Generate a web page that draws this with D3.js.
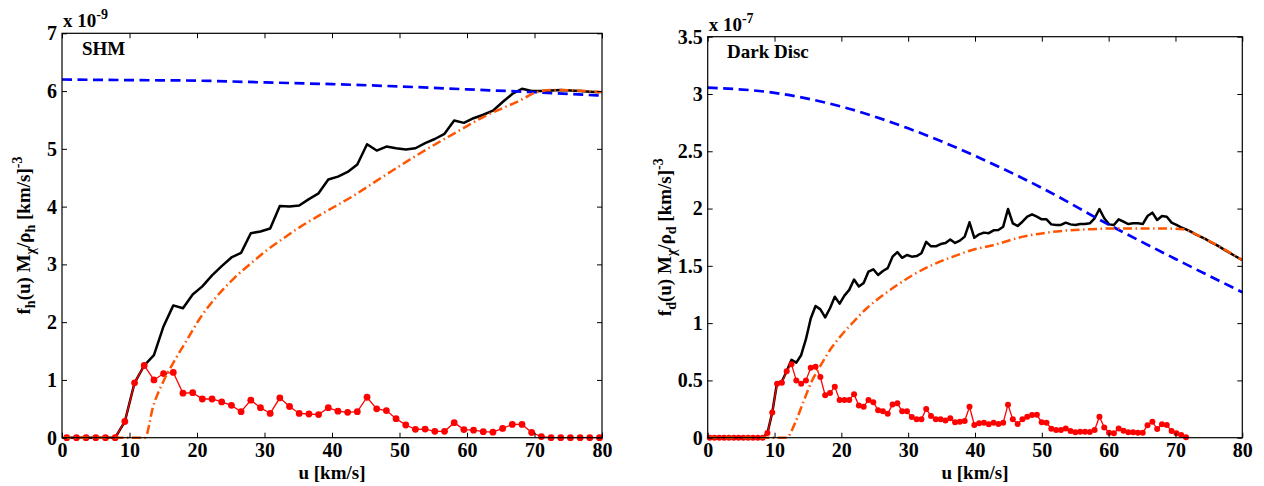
<!DOCTYPE html>
<html><head><meta charset="utf-8">
<script src="https://cdn.jsdelivr.net/npm/d3@7"></script>
<style>
body{margin:0;background:#fff}
svg text{font-family:"Liberation Serif","Times New Roman",serif;font-weight:bold;fill:#000}
</style>
</head><body>
<svg id="c" width="1264" height="486"></svg>
<script>
// ---------------- DATA ----------------
const xTicks = [0,10,20,30,40,50,60,70,80];
const yTicksSHM = [0,1,2,3,4,5,6,7];
const yTickLabelsSHM = ["0","1","2","3","4","5","6","7"];
const yTicksDD = [0,0.5,1,1.5,2,2.5,3,3.5];
const yTickLabelsDD = ["0","0.5","1","1.5","2","2.5","3","3.5"];

// SHM panel (units of 1e-9)
const uSHM = [0.70,2.14,3.57,5.01,6.44,7.88,9.31,10.75,12.18,13.62,15.05,16.49,17.92,19.36,20.79,22.23,23.66,25.10,26.53,27.97,
  29.40,30.84,32.27,33.71,35.14,36.58,38.01,39.45,40.88,42.32,43.75,45.19,46.62,48.06,49.49,50.93,52.36,53.80,55.23,56.67,
  58.10,59.54,60.97,62.41,63.84,65.28,66.71,68.15,69.58,71.02,72.45,73.89,75.32,76.76,78.19,79.63];
const blackSHM = [0,0,0,0,0,0,0.28,0.95,1.25,1.43,1.93,2.29,2.24,2.48,2.62,2.81,2.97,3.12,3.20,3.54,
  3.57,3.62,4.01,4.00,4.02,4.13,4.23,4.47,4.52,4.60,4.73,5.08,4.97,5.04,5.01,4.99,5.01,5.10,5.17,5.26,
  5.49,5.45,5.53,5.59,5.66,5.81,5.95,6.04,6.00,6.00,6.01,6.02,6.01,6.00,5.99,5.98];
const redSHM = [0,0,0,0,0,0,0.28,0.95,1.25,1.00,1.11,1.13,0.77,0.78,0.67,0.67,0.62,0.56,0.45,0.65,
  0.52,0.42,0.69,0.54,0.42,0.41,0.40,0.52,0.46,0.44,0.45,0.70,0.50,0.47,0.33,0.22,0.145,0.15,0.11,0.11,
  0.26,0.14,0.13,0.105,0.095,0.16,0.23,0.23,0.09,0.02,0,0,0,0,0,0];
const uOrangeSHM = [0,12.3,13.5,15.0,16.7,18.5,20.4,22.9,25.4,27.9,30.3,32.8,35.3,38.0,43.2,48.1,53.0,58.0,62.9,67.9,70.3,72.8,76.3,80];
const orangeSHM = [0,0,0.54,0.97,1.34,1.69,2.06,2.44,2.75,3.01,3.24,3.45,3.65,3.84,4.19,4.56,4.92,5.26,5.58,5.84,5.98,6.02,6.01,5.98];
const uBlueSHM = [0,10,20,30,40,50,60,70,80];
const blueSHM = [6.20,6.19,6.18,6.15,6.12,6.08,6.03,5.98,5.92];

// Dark disc panel (units of 1e-7)
const uDD = [0.30,1.02,1.74,2.46,3.18,3.90,4.62,5.34,6.06,6.78,7.50,8.22,8.94,9.66,10.38,11.10,11.82,12.54,13.26,13.98,
  14.70,15.42,16.14,16.86,17.58,18.30,19.02,19.74,20.46,21.18,21.90,22.62,23.34,24.06,24.78,25.50,26.22,26.94,27.66,28.38,
  29.10,29.82,30.54,31.26,31.98,32.70,33.42,34.14,34.86,35.58,36.30,37.02,37.74,38.46,39.18,39.90,40.62,41.34,42.06,42.78,
  43.50,44.22,44.94,45.66,46.38,47.10,47.82,48.54,49.26,49.98,50.70,51.42,52.14,52.86,53.58,54.30,55.02,55.74,56.46,57.18,
  57.90,58.62,59.34,60.06,60.78,61.50,62.22,62.94,63.66,64.38,65.10,65.82,66.54,67.26,67.98,68.70,69.42,70.14,70.86,71.58,
  72.30,73.02,73.74,74.46,75.18,75.90,76.62,77.34,78.06,78.78,80.00];
const blackDD = [0,0,0,0,0,0,0,0,0,0,0,0,
  0.04,0.22,0.48,0.49,0.58,0.68,0.655,0.72,0.86,1.04,
  1.15,1.12,1.05,1.13,1.23,1.17,1.24,1.29,1.38,1.32,
  1.35,1.45,1.47,1.42,1.455,1.48,1.58,1.62,1.57,1.595,
  1.58,1.585,1.61,1.71,1.67,1.67,1.69,1.70,1.73,1.70,
  1.72,1.755,1.88,1.745,1.775,1.79,1.785,1.81,1.813,1.842,
  1.996,1.871,1.848,1.885,1.929,1.95,1.93,1.906,1.906,1.862,
  1.857,1.857,1.877,1.862,1.857,1.865,1.865,1.871,1.915,1.996,
  1.915,1.862,1.857,1.906,1.885,1.865,1.871,1.871,1.865,1.935,
  1.964,1.90,1.935,1.929,1.877,1.857,1.836,1.819,1.798,1.775,
  1.755,1.735,1.71,1.69,1.665,1.64,1.615,1.59,1.55];
const redDD = [0,0,0,0,0,0,0,0,0,0,0,0,
  0.04,0.22,0.47,0.48,0.58,0.64,0.50,0.47,0.50,0.61,
  0.62,0.53,0.37,0.39,0.445,0.33,0.33,0.33,0.38,0.28,
  0.27,0.33,0.31,0.24,0.23,0.21,0.29,0.30,0.23,0.23,
  0.18,0.16,0.16,0.25,0.19,0.16,0.16,0.15,0.17,0.134,
  0.14,0.146,0.27,0.111,0.126,0.131,0.117,0.131,0.12,0.131,
  0.288,0.16,0.12,0.16,0.183,0.198,0.20,0.134,0.131,0.079,
  0.067,0.067,0.081,0.058,0.047,0.052,0.052,0.05,0.067,0.183,
  0.09,0.044,0.038,0.081,0.061,0.047,0.047,0.044,0.044,0.108,
  0.14,0.076,0.117,0.111,0.058,0.038,0.024,0.003];
const uOrangeDD = [0,11.8,13.05,14.3,15.55,16.8,18.3,19.8,21.8,23.8,25.8,28.3,30.7,33.7,36.7,39.7,42.7,47.2,52.2,57.2,62.1,67.1,71.1,72.1,74.6,77.1,80];
const orangeDD = [0,0,0.125,0.31,0.49,0.62,0.765,0.88,1.01,1.13,1.225,1.33,1.42,1.51,1.58,1.64,1.68,1.755,1.80,1.82,1.827,1.827,1.82,1.80,1.73,1.65,1.55];
const uBlueDD = [0,10,20,30,40,50,60,70,80];
const blueDD = [3.055,3.01,2.89,2.70,2.46,2.18,1.86,1.56,1.27];

// ---------------- DRAW ----------------
const svg = d3.select('#c');
svg.append('rect').attr('width',1264).attr('height',486).attr('fill','#fff');

function rich(sel, parts, size, subSize) {
  let prev = 0;
  parts.forEach(p => {
    const shift = p[1] === 'sub' ? 5 : (p[1] === 'sup' ? -8 : 0);
    sel.append('tspan').attr('dy', shift - prev)
      .style('font-size', (p[1] ? subSize : size) + 'px').text(p[0]);
    prev = shift;
  });
}

function drawPanel(p) {
  const x = d3.scaleLinear().domain([0,80]).range([p.left, p.right]);
  const y = d3.scaleLinear().domain([0,p.ymax]).range([p.bottom, p.top]);
  const g = svg.append('g');
  const mk = (xs, curve) => d3.line().x((d,i)=>x(xs[i])).y(d=>y(d)).curve(curve || d3.curveLinear);

  g.append('path').attr('d', mk(p.uBlack)(p.black)).attr('fill','none')
    .attr('stroke','#000').attr('stroke-width',2.5).attr('stroke-linejoin','round');
  g.append('path').attr('d', mk(p.uRed)(p.red)).attr('fill','none')
    .attr('stroke','#ff0000').attr('stroke-width',1.3);
  g.selectAll('circle.r').data(p.red).join('circle').attr('class','r')
    .attr('cx',(d,i)=>x(p.uRed[i])).attr('cy',d=>y(d)).attr('r',p.r).attr('fill','#ff0000');
  g.append('path').attr('d', mk(p.uBlue, d3.curveMonotoneX)(p.blue)).attr('fill','none')
    .attr('stroke','#0000ff').attr('stroke-width',2.7).attr('stroke-dasharray','10,5.5');
  g.append('path').attr('d', mk(p.uOrange, d3.curveMonotoneX)(p.orange)).attr('fill','none')
    .attr('stroke','#ff5500').attr('stroke-width',2.5).attr('stroke-dasharray','9,3.5,1.5,3.5');

  // axes
  const style = a => {
    a.selectAll('path.domain').remove();
    a.selectAll('line').attr('stroke','#000').attr('stroke-width',1);
    a.selectAll('text').style('font-size','20px').attr('fill','#000');
  };
  g.append('g').attr('transform',`translate(0,${p.bottom})`)
    .call(d3.axisBottom(x).tickValues(xTicks).tickFormat(d3.format('d')).tickSize(-5).tickSizeOuter(0).tickPadding(5))
    .call(style);
  g.append('g').attr('transform',`translate(0,${p.top})`)
    .call(d3.axisTop(x).tickValues(xTicks).tickFormat('').tickSize(-5).tickSizeOuter(0)).call(style);
  g.append('g').attr('transform',`translate(${p.left},0)`)
    .call(d3.axisLeft(y).tickValues(p.yTicks).tickFormat((d,i)=>p.yLabels[i]).tickSize(-5).tickSizeOuter(0).tickPadding(5))
    .call(style);
  g.append('g').attr('transform',`translate(${p.right},0)`)
    .call(d3.axisRight(y).tickValues(p.yTicks).tickFormat('').tickSize(-5).tickSizeOuter(0)).call(style);
  g.append('rect').attr('x',p.left).attr('y',p.top).attr('width',p.right-p.left).attr('height',p.bottom-p.top)
    .attr('fill','none').attr('stroke','#000').attr('stroke-width',1.2);

  // x label
  g.append('text').attr('x',(p.left+p.right)/2).attr('y',479).attr('text-anchor','middle')
    .style('font-size','19px').text('u [km/s]');
  // exponent
  const ex = g.append('text').attr('x',p.left+1).attr('y',p.top-6).style('font-size','19px');
  rich(ex, [['x 10',null],[p.expo,'sup']], 19, 14);
  // panel title
  g.append('text').attr('x',p.titleX).attr('y',p.titleY).style('font-size','19px').text(p.title);
  // y label
  const yl = g.append('text').attr('text-anchor','middle')
    .attr('transform',`translate(${p.ylabX},${(p.top+p.bottom)/2}) rotate(-90)`).style('font-size','19px');
  rich(yl, [['f',null],[p.sub,'sub'],['(u) M',null],['\u03c7','sub'],['/\u03c1',null],[p.sub,'sub'],[' [km/s]',null],['-3','sup']], 19, 14);
}

drawPanel({left:62, right:602, top:33.3, bottom:437.7, ymax:7, yTicks:yTicksSHM, yLabels:yTickLabelsSHM,
  uBlack:uSHM, black:blackSHM, uRed:uSHM, red:redSHM, uOrange:uOrangeSHM, orange:orangeSHM,
  uBlue:uBlueSHM, blue:blueSHM, r:3.4, title:'SHM', titleX:82, titleY:55, ylabX:30, sub:'h', expo:'-9'});
drawPanel({left:707.7, right:1242.3, top:36.7, bottom:437.7, ymax:3.5, yTicks:yTicksDD, yLabels:yTickLabelsDD,
  uBlack:uDD, black:blackDD, uRed:uDD.slice(0,100), red:redDD, uOrange:uOrangeDD, orange:orangeDD,
  uBlue:uBlueDD, blue:blueDD, r:3.0, title:'Dark Disc', titleX:727, titleY:58, ylabX:671, sub:'d', expo:'-7'});
</script>
</body></html>
